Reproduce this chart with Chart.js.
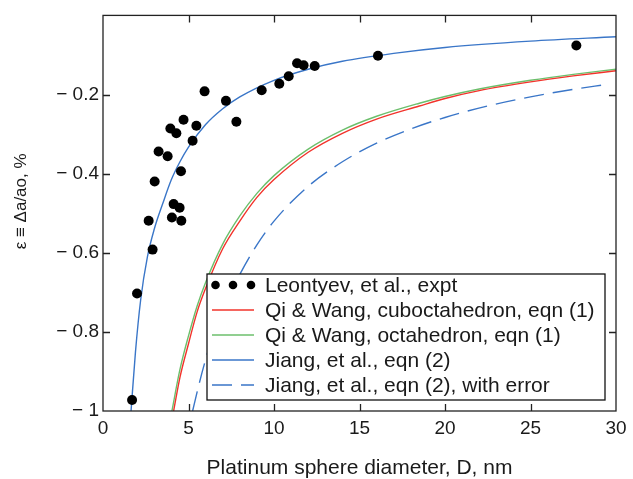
<!DOCTYPE html>
<html>
<head>
<meta charset="utf-8">
<title>Pt lattice strain vs diameter</title>
<script src="https://cdn.jsdelivr.net/npm/chart.js@4.4.1/dist/chart.umd.min.js"></script>
<style>
    html, body { margin: 0; padding: 0; background: #fff; }
    #wrap { width: 633px; height: 479px; }
</style>
</head>
<body>
<div id="wrap"><canvas id="myChart" width="633" height="479"></canvas></div>
<script>
// Leontyev et al. experimental points (diameter nm, strain %)
const exptD = [1.70, 1.99, 2.67, 2.90, 3.02, 3.25, 3.78, 3.94, 4.03, 4.13, 4.29, 4.48, 4.56, 4.58,
    4.71, 5.24, 5.46, 5.94, 7.19, 7.80, 9.28, 10.31, 10.86, 11.35, 11.73, 12.38, 16.08, 27.68];
const exptEps = [-0.972, -0.703, -0.519, -0.592, -0.420, -0.344, -0.356, -0.286, -0.511, -0.477, -0.298, -0.486, -0.394, -0.519,
    -0.264, -0.317, -0.279, -0.192, -0.216, -0.269, -0.189, -0.173, -0.154, -0.121, -0.126, -0.128, -0.102, -0.076];

// Qi & Wang, cuboctahedron
const cuboD = [4.13, 4.5, 5, 5.5, 6, 7, 8, 9, 10, 12, 14, 16, 18.5, 20, 22, 25, 27.5, 30];
const cuboEps = [-1.0, -0.915, -0.83, -0.75, -0.69, -0.59, -0.52, -0.46, -0.415, -0.346, -0.298, -0.262, -0.229, -0.21, -0.19, -0.168, -0.153, -0.140];

// Qi & Wang, octahedron
const octaD = [4.03, 4.5, 5, 5.5, 6, 7, 8, 9, 10, 12, 14, 16, 18.5, 20, 22, 25, 27.5, 30];
const octaEps = [-1.0, -0.895, -0.81, -0.735, -0.675, -0.578, -0.507, -0.45, -0.405, -0.338, -0.29, -0.255, -0.222, -0.205, -0.186, -0.164, -0.149, -0.136];

// Jiang et al., eqn (2)
const jiangD = [1.64, 1.9, 2.2, 2.6, 3, 3.5, 4, 4.5, 5, 6, 7, 8, 10, 12, 14, 17, 20, 25, 30];
const jiangEps = [-1.0, -0.85, -0.72, -0.61, -0.54, -0.475, -0.415, -0.37, -0.333, -0.276, -0.236, -0.206, -0.164, -0.136, -0.116, -0.096, -0.081, -0.065, -0.054];

// Jiang et al., eqn (2) with error
const jiangErrD = [5.24, 5.6, 6, 6.5, 7, 8, 9, 10, 12, 14, 16, 18, 20, 22.5, 25, 27.5, 29.4];
const jiangErrEps = [-1.0, -0.935, -0.87, -0.8, -0.745, -0.655, -0.58, -0.52, -0.432, -0.37, -0.323, -0.287, -0.258, -0.229, -0.206, -0.187, -0.175];

const xTicks = [0, 5, 10, 15, 20, 25, 30];
const yTicks = [-1, -0.8, -0.6, -0.4, -0.2];

const seriesLabels = [
    'Leontyev, et al., expt',
    'Qi & Wang, cuboctahedron, eqn (1)',
    'Qi & Wang, octahedron, eqn (1)',
    'Jiang, et al., eqn (2)',
    'Jiang, et al., eqn (2), with error'
];

const RED = '#f2332b';
const GREEN = '#6cbf6c';
const BLUE = '#3a76c8';
const INK = '#1a1a1a';
const FONT = "'Liberation Sans', Arial, sans-serif";

function toPoints(xs, ys) {
    return xs.map((x, i) => ({ x: x, y: ys[i] }));
}

function lineSet(label, xs, ys, color, dash) {
    return {
        label: label,
        data: toPoints(xs, ys),
        showLine: true,
        borderColor: color,
        backgroundColor: color,
        borderWidth: 1.4,
        borderDash: dash || [],
        pointRadius: 0,
        cubicInterpolationMode: 'monotone',
        order: 2
    };
}

// inward tick marks, frame and the boxed legend
const framePlugin = {
    id: 'frame',
    afterDatasetsDraw(chart) {
        const ctx = chart.ctx;
        const a = chart.chartArea;
        const xs = chart.scales.x, ys = chart.scales.y;
        const tl = 7;
        ctx.save();
        ctx.strokeStyle = '#222';
        ctx.lineWidth = 1.3;
        ctx.beginPath();
        xTicks.slice(1, -1).forEach(v => {
            const p = Math.round(xs.getPixelForValue(v)) + 0.5;
            ctx.moveTo(p, a.bottom); ctx.lineTo(p, a.bottom - tl);
            ctx.moveTo(p, a.top); ctx.lineTo(p, a.top + tl);
        });
        yTicks.slice(1).forEach(v => {
            const p = Math.round(ys.getPixelForValue(v)) + 0.5;
            ctx.moveTo(a.left, p); ctx.lineTo(a.left + tl, p);
            ctx.moveTo(a.right, p); ctx.lineTo(a.right - tl, p);
        });
        ctx.stroke();
        ctx.strokeRect(a.left, a.top, a.right - a.left, a.bottom - a.top);

        // legend box
        const bw = 398, bh = 126;
        const bx = a.right - 11 - bw;
        const by = a.bottom - 11 - bh;
        ctx.fillStyle = '#fff';
        ctx.fillRect(bx, by, bw, bh);
        ctx.strokeStyle = '#111';
        ctx.strokeRect(bx, by, bw, bh);

        const rowH = 25;
        const sx0 = bx + 5, sx1 = bx + 47;
        ctx.font = '21px ' + FONT;
        ctx.textBaseline = 'middle';
        ctx.textAlign = 'left';
        chart.data.datasets.forEach((ds, i) => {
            const cy = by + 11 + i * rowH;
            if (i === 0) {
                ctx.fillStyle = '#000';
                [8.5, 26, 44].forEach(dx => {
                    ctx.beginPath();
                    ctx.arc(bx + dx, cy, 4.3, 0, Math.PI * 2);
                    ctx.fill();
                });
            } else {
                ctx.strokeStyle = ds.borderColor;
                ctx.lineWidth = 1.4;
                ctx.setLineDash(ds.borderDash);
                ctx.beginPath();
                ctx.moveTo(sx0, cy);
                ctx.lineTo(sx1, cy);
                ctx.stroke();
                ctx.setLineDash([]);
            }
            ctx.fillStyle = INK;
            ctx.fillText(ds.label, bx + 58, cy + 1);
        });
        ctx.restore();
    }
};

const ctx = document.getElementById('myChart').getContext('2d');
const myChart = new Chart(ctx, {
    type: 'scatter',
    data: {
        datasets: [
            {
                label: seriesLabels[0],
                data: toPoints(exptD, exptEps),
                pointRadius: 5,
                pointHoverRadius: 5,
                pointBackgroundColor: '#000',
                pointBorderWidth: 0,
                borderColor: '#000',
                showLine: false,
                order: 1
            },
            lineSet(seriesLabels[1], cuboD, cuboEps, RED),
            lineSet(seriesLabels[2], octaD, octaEps, GREEN),
            lineSet(seriesLabels[3], jiangD, jiangEps, BLUE),
            lineSet(seriesLabels[4], jiangErrD, jiangErrEps, BLUE, [20, 9])
        ]
    },
    options: {
        responsive: false,
        animation: false,
        devicePixelRatio: 1,
        layout: { padding: { top: 12, right: 17, left: 0, bottom: 0 } },
        plugins: {
            legend: { display: false },
            tooltip: { enabled: false }
        },
        scales: {
            x: {
                type: 'linear',
                min: 0,
                max: 30,
                afterFit: function (scale) { scale.height = 68; },
                afterBuildTicks: function (scale) { scale.ticks = xTicks.map(v => ({ value: v })); },
                ticks: { color: INK, font: { size: 19, family: FONT }, padding: 6 },
                grid: { drawOnChartArea: false, drawTicks: false },
                border: { display: false },
                title: {
                    display: true,
                    text: 'Platinum sphere diameter, D, nm',
                    color: INK,
                    font: { size: 21, family: FONT, lineHeight: 1 },
                    padding: { top: 0, bottom: 0 }
                }
            },
            y: {
                type: 'linear',
                min: -1,
                max: 0,
                afterFit: function (scale) { scale.width = 103; },
                afterBuildTicks: function (scale) { scale.ticks = yTicks.map(v => ({ value: v })); },
                ticks: {
                    color: INK,
                    font: { size: 19, family: FONT },
                    padding: 4,
                    callback: function (v) { return '\u2212 ' + Math.abs(v).toString(); }
                },
                grid: { drawOnChartArea: false, drawTicks: false },
                border: { display: false },
                title: {
                    display: true,
                    text: '     \u03b5 \u2261 \u0394a/ao, %',
                    color: INK,
                    font: { size: 17, family: FONT },
                    padding: { top: 11, bottom: 0 }
                }
            }
        }
    },
    plugins: [framePlugin]
});
</script>
</body>
</html>
